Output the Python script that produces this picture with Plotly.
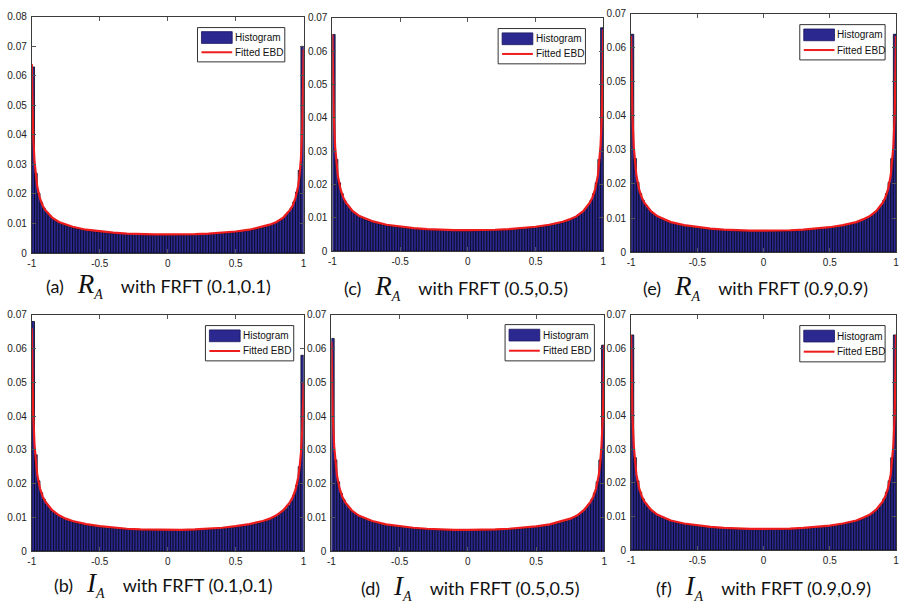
import plotly.graph_objects as go

# ---------------- data ----------------
BIN_WIDTH = 0.02
N_BINS = 100
BIN_CENTERS = [round(-1 + BIN_WIDTH / 2 + i * BIN_WIDTH, 3) for i in range(N_BINS)]

HIST_A = [
    0.0630, 0.0270, 0.0203, 0.0171, 0.0151, 0.0137, 0.0127, 0.0118, 0.0111, 0.0106,
    0.0101, 0.0097, 0.0093, 0.0091, 0.0087, 0.0085, 0.0083, 0.0081, 0.0079, 0.0078,
    0.0076, 0.0075, 0.0074, 0.0072, 0.0072, 0.0070, 0.0070, 0.0069, 0.0068, 0.0068,
    0.0067, 0.0066, 0.0066, 0.0065, 0.0065, 0.0064, 0.0064, 0.0063, 0.0063, 0.0063,
    0.0062, 0.0062, 0.0062, 0.0062, 0.0061, 0.0061, 0.0062, 0.0061, 0.0061, 0.0061,
    0.0061, 0.0061, 0.0062, 0.0061, 0.0062, 0.0061, 0.0062, 0.0062, 0.0062, 0.0062,
    0.0063, 0.0063, 0.0063, 0.0064, 0.0064, 0.0065, 0.0065, 0.0066, 0.0066, 0.0067,
    0.0068, 0.0068, 0.0069, 0.0070, 0.0071, 0.0072, 0.0072, 0.0074, 0.0075, 0.0076,
    0.0078, 0.0079, 0.0081, 0.0083, 0.0085, 0.0088, 0.0090, 0.0093, 0.0097, 0.0101,
    0.0106, 0.0112, 0.0119, 0.0128, 0.0138, 0.0152, 0.0173, 0.0206, 0.0280, 0.0700,
]
HIST_B = [
    0.0680, 0.0285, 0.0208, 0.0173, 0.0153, 0.0139, 0.0128, 0.0119, 0.0112, 0.0106,
    0.0102, 0.0097, 0.0094, 0.0090, 0.0088, 0.0085, 0.0083, 0.0081, 0.0080, 0.0078,
    0.0077, 0.0075, 0.0074, 0.0073, 0.0072, 0.0071, 0.0070, 0.0069, 0.0069, 0.0068,
    0.0067, 0.0067, 0.0066, 0.0065, 0.0065, 0.0065, 0.0064, 0.0064, 0.0063, 0.0063,
    0.0063, 0.0062, 0.0062, 0.0062, 0.0062, 0.0062, 0.0061, 0.0062, 0.0061, 0.0062,
    0.0061, 0.0062, 0.0062, 0.0062, 0.0062, 0.0062, 0.0062, 0.0063, 0.0063, 0.0063,
    0.0063, 0.0063, 0.0064, 0.0064, 0.0065, 0.0065, 0.0066, 0.0066, 0.0067, 0.0067,
    0.0068, 0.0069, 0.0069, 0.0070, 0.0071, 0.0072, 0.0073, 0.0074, 0.0075, 0.0077,
    0.0078, 0.0080, 0.0081, 0.0083, 0.0085, 0.0088, 0.0090, 0.0093, 0.0097, 0.0101,
    0.0106, 0.0111, 0.0117, 0.0125, 0.0135, 0.0148, 0.0166, 0.0195, 0.0250, 0.0580,
]
HIST_C = [
    0.0650, 0.0275, 0.0205, 0.0172, 0.0151, 0.0138, 0.0127, 0.0119, 0.0112, 0.0106,
    0.0101, 0.0097, 0.0093, 0.0090, 0.0088, 0.0085, 0.0083, 0.0081, 0.0079, 0.0078,
    0.0076, 0.0075, 0.0074, 0.0073, 0.0072, 0.0071, 0.0070, 0.0069, 0.0068, 0.0068,
    0.0067, 0.0066, 0.0066, 0.0065, 0.0065, 0.0064, 0.0064, 0.0063, 0.0063, 0.0063,
    0.0062, 0.0062, 0.0062, 0.0061, 0.0062, 0.0061, 0.0061, 0.0061, 0.0061, 0.0061,
    0.0061, 0.0061, 0.0061, 0.0062, 0.0061, 0.0062, 0.0062, 0.0062, 0.0062, 0.0062,
    0.0063, 0.0063, 0.0063, 0.0064, 0.0064, 0.0064, 0.0065, 0.0065, 0.0066, 0.0067,
    0.0067, 0.0068, 0.0069, 0.0070, 0.0070, 0.0071, 0.0072, 0.0073, 0.0075, 0.0076,
    0.0077, 0.0079, 0.0080, 0.0082, 0.0084, 0.0087, 0.0089, 0.0092, 0.0096, 0.0100,
    0.0105, 0.0111, 0.0118, 0.0127, 0.0137, 0.0151, 0.0172, 0.0205, 0.0275, 0.0670,
]
HIST_D = [
    0.0630, 0.0270, 0.0205, 0.0171, 0.0152, 0.0138, 0.0127, 0.0118, 0.0112, 0.0106,
    0.0101, 0.0097, 0.0094, 0.0090, 0.0088, 0.0085, 0.0083, 0.0081, 0.0079, 0.0078,
    0.0076, 0.0075, 0.0074, 0.0073, 0.0072, 0.0071, 0.0070, 0.0069, 0.0069, 0.0068,
    0.0067, 0.0066, 0.0066, 0.0065, 0.0065, 0.0064, 0.0064, 0.0064, 0.0063, 0.0063,
    0.0062, 0.0062, 0.0062, 0.0062, 0.0062, 0.0061, 0.0061, 0.0061, 0.0062, 0.0061,
    0.0061, 0.0061, 0.0062, 0.0062, 0.0062, 0.0062, 0.0062, 0.0062, 0.0063, 0.0063,
    0.0063, 0.0063, 0.0064, 0.0064, 0.0064, 0.0065, 0.0065, 0.0066, 0.0066, 0.0067,
    0.0068, 0.0068, 0.0069, 0.0070, 0.0071, 0.0072, 0.0072, 0.0074, 0.0075, 0.0076,
    0.0078, 0.0079, 0.0081, 0.0083, 0.0085, 0.0088, 0.0090, 0.0093, 0.0097, 0.0101,
    0.0106, 0.0112, 0.0119, 0.0128, 0.0138, 0.0152, 0.0172, 0.0205, 0.0270, 0.0610,
]
HIST_E = [
    0.0640, 0.0275, 0.0205, 0.0172, 0.0152, 0.0138, 0.0128, 0.0119, 0.0112, 0.0106,
    0.0101, 0.0097, 0.0093, 0.0090, 0.0088, 0.0085, 0.0083, 0.0081, 0.0079, 0.0078,
    0.0076, 0.0075, 0.0074, 0.0073, 0.0072, 0.0071, 0.0070, 0.0069, 0.0068, 0.0068,
    0.0067, 0.0066, 0.0066, 0.0065, 0.0065, 0.0064, 0.0064, 0.0063, 0.0063, 0.0063,
    0.0062, 0.0062, 0.0062, 0.0062, 0.0061, 0.0061, 0.0061, 0.0061, 0.0061, 0.0061,
    0.0061, 0.0061, 0.0061, 0.0061, 0.0061, 0.0062, 0.0062, 0.0062, 0.0062, 0.0062,
    0.0063, 0.0063, 0.0063, 0.0064, 0.0064, 0.0065, 0.0065, 0.0066, 0.0066, 0.0067,
    0.0068, 0.0068, 0.0069, 0.0070, 0.0071, 0.0072, 0.0072, 0.0073, 0.0075, 0.0076,
    0.0078, 0.0079, 0.0081, 0.0083, 0.0085, 0.0088, 0.0090, 0.0093, 0.0097, 0.0101,
    0.0106, 0.0112, 0.0119, 0.0128, 0.0138, 0.0152, 0.0172, 0.0205, 0.0275, 0.0640,
]
HIST_F = [
    0.0640, 0.0275, 0.0206, 0.0172, 0.0152, 0.0138, 0.0127, 0.0119, 0.0112, 0.0106,
    0.0101, 0.0097, 0.0094, 0.0090, 0.0088, 0.0085, 0.0083, 0.0081, 0.0079, 0.0078,
    0.0076, 0.0075, 0.0074, 0.0073, 0.0072, 0.0071, 0.0070, 0.0069, 0.0068, 0.0068,
    0.0067, 0.0066, 0.0066, 0.0065, 0.0065, 0.0064, 0.0064, 0.0063, 0.0063, 0.0063,
    0.0062, 0.0062, 0.0062, 0.0062, 0.0061, 0.0061, 0.0061, 0.0061, 0.0061, 0.0061,
    0.0061, 0.0061, 0.0061, 0.0061, 0.0062, 0.0062, 0.0062, 0.0062, 0.0062, 0.0062,
    0.0063, 0.0063, 0.0063, 0.0064, 0.0064, 0.0065, 0.0065, 0.0066, 0.0066, 0.0067,
    0.0068, 0.0068, 0.0069, 0.0070, 0.0071, 0.0072, 0.0072, 0.0073, 0.0075, 0.0076,
    0.0078, 0.0079, 0.0081, 0.0083, 0.0085, 0.0087, 0.0090, 0.0093, 0.0097, 0.0101,
    0.0106, 0.0112, 0.0119, 0.0127, 0.0138, 0.0152, 0.0172, 0.0206, 0.0275, 0.0640,
]

CURVE_X = [-1, -0.995, -0.99, -0.98, -0.97, -0.96, -0.94, -0.92, -0.90, -0.85, -0.80,
           -0.75, -0.70, -0.60, -0.50, -0.40, -0.30, -0.20, -0.10, 0.0, 0.10, 0.20,
           0.30, 0.40, 0.50, 0.60, 0.70, 0.75, 0.80, 0.85, 0.90, 0.92, 0.94, 0.96,
           0.97, 0.98, 0.99, 0.995, 1]

CURVE_A = [0.0640, 0.0480, 0.0400, 0.0310, 0.0260, 0.0225, 0.0185, 0.0161, 0.0145, 0.0120, 0.0105,
           0.0096, 0.0089, 0.0079, 0.0073, 0.0069, 0.0066, 0.0064, 0.0063, 0.0063, 0.0063, 0.0064,
           0.0066, 0.0069, 0.0073, 0.0079, 0.0089, 0.0096, 0.0105, 0.0120, 0.0146, 0.0162, 0.0187,
           0.0228, 0.0265, 0.0320, 0.0420, 0.0520, 0.0690]
CURVE_B = [0.0660, 0.0500, 0.0410, 0.0315, 0.0262, 0.0226, 0.0186, 0.0162, 0.0146, 0.0121, 0.0106,
           0.0096, 0.0089, 0.0080, 0.0074, 0.0069, 0.0066, 0.0064, 0.0063, 0.0063, 0.0063, 0.0064,
           0.0066, 0.0069, 0.0074, 0.0080, 0.0089, 0.0096, 0.0106, 0.0121, 0.0145, 0.0160, 0.0182,
           0.0218, 0.0248, 0.0290, 0.0360, 0.0420, 0.0500]
CURVE_C = [0.0650, 0.0490, 0.0405, 0.0312, 0.0261, 0.0225, 0.0185, 0.0161, 0.0145, 0.0120, 0.0105,
           0.0096, 0.0089, 0.0079, 0.0073, 0.0069, 0.0066, 0.0064, 0.0063, 0.0063, 0.0063, 0.0064,
           0.0066, 0.0069, 0.0073, 0.0079, 0.0088, 0.0095, 0.0104, 0.0119, 0.0145, 0.0161, 0.0186,
           0.0227, 0.0264, 0.0318, 0.0415, 0.0510, 0.0665]
CURVE_D = [0.0620, 0.0475, 0.0398, 0.0310, 0.0260, 0.0225, 0.0185, 0.0161, 0.0145, 0.0120, 0.0105,
           0.0096, 0.0089, 0.0079, 0.0073, 0.0069, 0.0066, 0.0064, 0.0063, 0.0063, 0.0063, 0.0064,
           0.0066, 0.0069, 0.0073, 0.0079, 0.0089, 0.0096, 0.0105, 0.0121, 0.0146, 0.0162, 0.0186,
           0.0226, 0.0262, 0.0315, 0.0405, 0.0490, 0.0610]
CURVE_E = [0.0635, 0.0480, 0.0400, 0.0310, 0.0260, 0.0225, 0.0185, 0.0161, 0.0145, 0.0120, 0.0105,
           0.0096, 0.0088, 0.0079, 0.0073, 0.0069, 0.0066, 0.0064, 0.0063, 0.0063, 0.0063, 0.0064,
           0.0066, 0.0069, 0.0073, 0.0079, 0.0088, 0.0096, 0.0105, 0.0120, 0.0145, 0.0161, 0.0185,
           0.0225, 0.0260, 0.0310, 0.0400, 0.0480, 0.0635]
CURVE_F = [0.0640, 0.0482, 0.0402, 0.0311, 0.0260, 0.0225, 0.0185, 0.0161, 0.0145, 0.0120, 0.0105,
           0.0096, 0.0088, 0.0079, 0.0073, 0.0069, 0.0066, 0.0064, 0.0063, 0.0063, 0.0063, 0.0064,
           0.0066, 0.0069, 0.0073, 0.0079, 0.0088, 0.0096, 0.0105, 0.0120, 0.0145, 0.0161, 0.0185,
           0.0225, 0.0260, 0.0311, 0.0402, 0.0482, 0.0640]

Y_MAX = [0.08, 0.07, 0.07, 0.07, 0.07, 0.07]
X_TICKS = [-1, -0.5, 0, 0.5, 1]
X_TICK_TEXT = ["-1", "-0.5", "0", "0.5", "1"]
PANEL_LETTERS = ["a", "b", "c", "d", "e", "f"]
PANEL_SYMBOLS = ["R", "I", "R", "I", "R", "I"]
PANEL_PARAMS = ["(0.1,0.1)", "(0.1,0.1)", "(0.5,0.5)", "(0.5,0.5)", "(0.9,0.9)", "(0.9,0.9)"]
LEGEND_LABELS = ["Histogram", "Fitted EBD"]
HISTS = [HIST_A, HIST_B, HIST_C, HIST_D, HIST_E, HIST_F]
CURVES = [CURVE_A, CURVE_B, CURVE_C, CURVE_D, CURVE_E, CURVE_F]

# ---------------- layout (pixel boxes) ----------------
W, H = 901, 609
BOXES = [  # axes (left, right, top, bottom)
    (28, 302, 11, 252),
    (28, 302, 315, 556),
    (331, 604, 12, 250),
    (330, 605, 315, 556),
    (632, 899, 8, 251),
    (632, 899, 315, 555),
]
LEGEND_BOXES = [  # legend frame (left, right, top, bottom)
    (195, 283, 22, 57),
    (203, 292, 326, 362),
    (498, 586, 23, 59),
    (505, 595, 325, 362),
    (802, 888, 19, 55),
    (802, 888, 326, 363),
]
CAPTION_POS = [(156, 285), (160, 590), (456, 287), (470, 593), (757, 287), (765, 593)]

BAR_COLOR = "#2b2890"
LINE_COLOR = "#ee1c1c"


def px(xp):
    return xp / W


def py(yp):
    return 1 - yp / H


fig = go.Figure()
annotations = []
shapes = []
layout_upd = {}

for i in range(6):
    n = "" if i == 0 else str(i + 1)
    xa, ya = "x" + n, "y" + n
    l, r, t, b = BOXES[i]
    fig.add_trace(go.Bar(
        x=BIN_CENTERS, y=HISTS[i], width=BIN_WIDTH,
        marker=dict(color=BAR_COLOR, line=dict(color="#06061a", width=0.8)),
        name=LEGEND_LABELS[0], xaxis=xa, yaxis=ya, showlegend=False,
    ))
    fig.add_trace(go.Scatter(
        x=CURVE_X, y=CURVES[i], mode="lines",
        line=dict(color=LINE_COLOR, width=2.2),
        name=LEGEND_LABELS[1], xaxis=xa, yaxis=ya, showlegend=False,
    ))
    ymax = Y_MAX[i]
    nt = int(round(ymax / 0.01))
    yticks = [round(k * 0.01, 2) for k in range(nt + 1)]
    ytext = ["0"] + ["%.2f" % v for v in yticks[1:]]
    axis_common = dict(
        showline=True, linecolor="#3a3a3a", linewidth=1, mirror="ticks",
        ticks="inside", ticklen=4, tickcolor="#555", showgrid=False, zeroline=False,
        tickfont=dict(family="Liberation Sans", size=10, color="#222"),
        fixedrange=True,
    )
    layout_upd["xaxis" + n] = dict(
        axis_common, domain=[px(l), px(r)], range=[-1, 1],
        tickvals=X_TICKS, ticktext=X_TICK_TEXT, anchor=ya, ticklabelstandoff=1,
    )
    layout_upd["yaxis" + n] = dict(
        axis_common, domain=[py(b), py(t)], range=[0, ymax],
        tickvals=yticks, ticktext=ytext, anchor=xa, ticklabelstandoff=2,
    )

    # legend frame drawn like the MATLAB legend box
    ll, lr, lt, lb = LEGEND_BOXES[i]
    shapes.append(dict(type="rect", xref="paper", yref="paper",
                       x0=px(ll), x1=px(lr), y0=py(lb), y1=py(lt),
                       line=dict(color="#333", width=1), fillcolor="white", layer="above"))
    row1 = lt + (lb - lt) * 0.29
    row2 = lt + (lb - lt) * 0.72
    shapes.append(dict(type="rect", xref="paper", yref="paper",
                       x0=px(ll + 4), x1=px(ll + 35), y0=py(row1 + 6), y1=py(row1 - 6),
                       line=dict(color="#1a1860", width=0.8), fillcolor=BAR_COLOR, layer="above"))
    shapes.append(dict(type="line", xref="paper", yref="paper",
                       x0=px(ll + 4), x1=px(ll + 35), y0=py(row2), y1=py(row2),
                       line=dict(color=LINE_COLOR, width=2), layer="above"))
    for lab, ry in zip(LEGEND_LABELS, [row1, row2]):
        annotations.append(dict(
            x=px(ll + 36), y=py(ry), xref="paper", yref="paper", xanchor="left", yanchor="middle",
            text=lab, showarrow=False,
            font=dict(family="Liberation Sans", size=10, color="#111"),
        ))

    cx, cy = CAPTION_POS[i]
    sym = PANEL_SYMBOLS[i]
    text = ("(%s)\u00a0\u00a0\u00a0<span style='font-family:Liberation Serif;font-size:27px'><i>%s</i>"
            "<sub><span style='font-size:14px'><i>A</i></span></sub></span>"
            "\u00a0\u00a0\u00a0\u00a0with FRFT %s") % (PANEL_LETTERS[i], sym, PANEL_PARAMS[i])
    annotations.append(dict(
        x=px(cx), y=py(cy), xref="paper", yref="paper", xanchor="center", yanchor="middle",
        text=text, showarrow=False, font=dict(family="Lato", size=18, color="#111"),
    ))

fig.update_layout(
    width=W, height=H, margin=dict(l=0, r=0, t=0, b=0),
    paper_bgcolor="white", plot_bgcolor="white", showlegend=False,
    bargap=0, barmode="overlay", annotations=annotations, shapes=shapes,
    **layout_upd,
)

fig.write_html(
    "out.html",
    config={"displayModeBar": False, "staticPlot": True},
    post_script="document.body.style.margin='0';document.body.style.padding='0';",
)
